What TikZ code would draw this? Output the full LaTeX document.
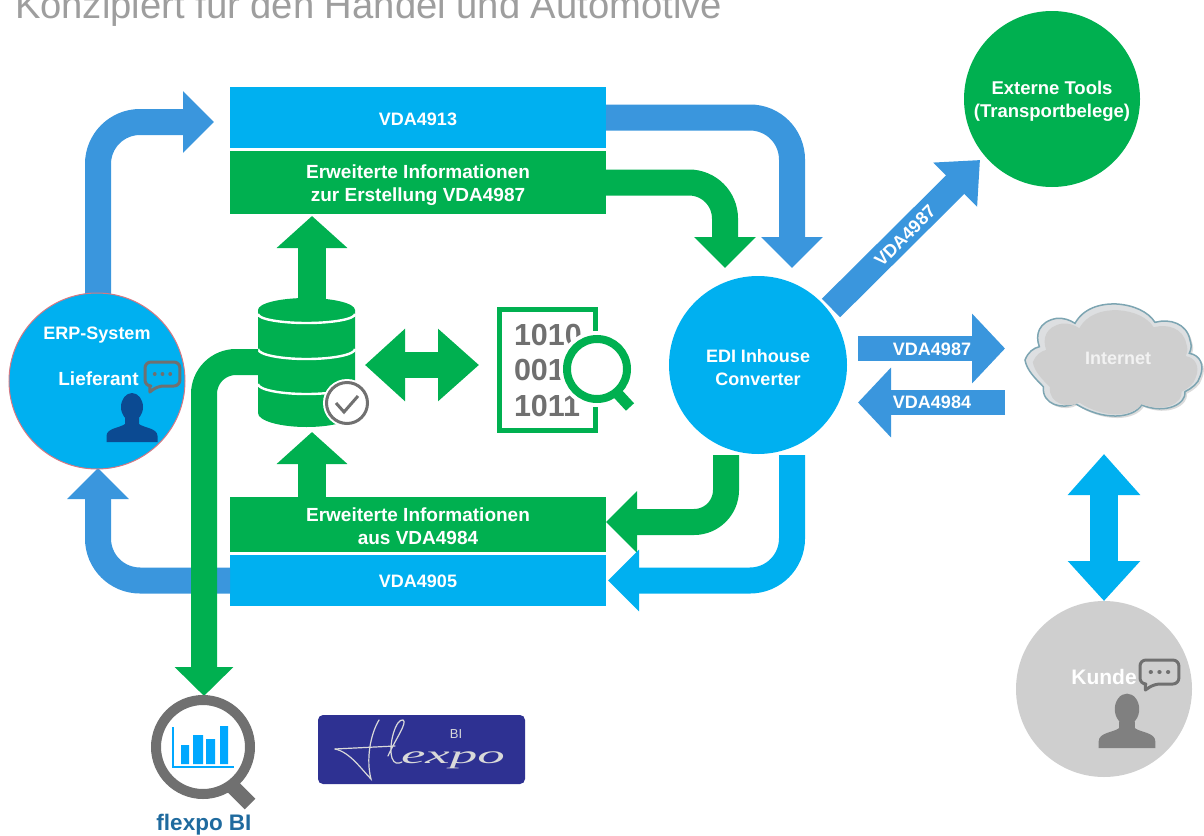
\documentclass[tikz,border=0pt]{standalone}
\usepackage{fontspec}
\setmainfont{Liberation Sans}
\newfontfamily\logofont{Liberation Serif}
\usetikzlibrary{arrows.meta}
\definecolor{cyanbox}{HTML}{00B0F0}
\definecolor{greenbox}{HTML}{00B050}
\definecolor{arrowblue}{HTML}{3A96DD}
\definecolor{graycircle}{HTML}{CFCFCF}
\definecolor{darkperson}{HTML}{0B4A92}
\definecolor{iconGray}{HTML}{707070}
\definecolor{cloudlight}{HTML}{DDDFE1}
\definecolor{cloudedge}{HTML}{7DA5B2}
\definecolor{chartblue}{HTML}{00A8FF}
\definecolor{bitext}{HTML}{1F6A9E}
\definecolor{logoblue}{HTML}{2E3192}
\definecolor{erpedge}{HTML}{D67882}
\newcommand{\dn}[1]{\rule{0pt}{#1pt}}
\newcommand{\personicon}[4]{%
  \begin{scope}[shift={(#1,#2)},scale=#3]
    \fill[#4] (-25.5,0) -- (-25.5,-6) .. controls (-25.5,-14) and (-12,-14) .. (-7,-18) -- (-7,-24) -- (7,-24) -- (7,-18) .. controls (12,-14) and (25.5,-14) .. (25.5,-6) -- (25.5,0) -- cycle;
    \fill[#4] (0,-35) ellipse [x radius=11, y radius=14];
  \end{scope}}
\newcommand{\bubbleicon}[3]{%
  \begin{scope}[shift={(#1,#2)},xscale=#3]
    \draw[iconGray,line width=3pt,line join=round] [rounded corners=6pt] (0,0) -- (36,0) -- (36,24) -- (13,24) [sharp corners] -- (5,30) -- (5,24) [rounded corners=6pt] -- (0,24) -- cycle;
    \foreach \dx in {10,18,26} \fill[iconGray] (\dx,12) circle [radius=2];
  \end{scope}}
\newcommand{\cloudpath}{(75,210) .. controls (85,185) and (100,175) .. (118,170)
  .. controls (105,135) and (115,95) .. (170,85) .. controls (190,83) and (210,90) .. (225,100)
  .. controls (250,55) and (300,40) .. (350,42) .. controls (400,45) and (445,65) .. (465,97)
  .. controls (510,85) and (560,100) .. (570,150) .. controls (575,165) and (575,175) .. (568,190)
  .. controls (600,195) and (615,225) .. (600,260) .. controls (595,280) and (575,295) .. (555,305)
  .. controls (560,340) and (500,375) .. (425,345) .. controls (400,385) and (310,395) .. (225,340)
  .. controls (190,360) and (125,345) .. (130,290) .. controls (105,265) and (80,240) .. (75,210) -- cycle}
\tikzset{
  box/.style={draw=none,fill=#1,minimum width=376pt,inner sep=0pt,outer sep=0pt,text=white,align=center,font=\bfseries\fontsize{18}{23}\selectfont},
  bigbox/.style={box=#1,font=\bfseries\fontsize{19}{23}\selectfont},
  disc/.style={circle,fill=#1,minimum size=176pt,inner sep=0pt,outer sep=0pt,text=white,align=center,font=\bfseries\fontsize{18}{23}\selectfont},
  lbl/.style={text=white,inner sep=0pt,align=center,font=\bfseries\fontsize{18}{23}\selectfont},
  holder/.style={inner sep=0pt,outer sep=0pt},
  fat/.style={draw=#1,line width=26pt,rounded corners=42pt,-{Triangle[width=60pt,length=31pt,fill=#1]}},
  upfat/.style={draw=greenbox,line width=28pt,-{Triangle[width=69pt,length=32pt,fill=greenbox]}},
  hfat/.style={draw=arrowblue,line width=25pt,-{Triangle[width=68pt,length=33pt,fill=arrowblue]}},
  digits/.style={holder,anchor=base west,text=iconGray,font=\bfseries\fontsize{30.5}{30}\selectfont},
}
\begin{document}
\begin{tikzpicture}[x=1pt,y=-1pt]
\useasboundingbox (0,0) rectangle (1204,835);
\clip (0,0) rectangle (1204,835);
% title
\node[holder,anchor=base west,text=black!38,font=\fontsize{38.2}{44}\selectfont] (title) at (15,18) {Konzipiert für den Handel und Automotive};

% named anchors for the connectors
\coordinate (erpOut) at (98,296);
\coordinate (erpTip) at (214,122);
\coordinate (ediTipA) at (792,268);
\coordinate (ediTipB) at (725,268);
\coordinate (ediOutG) at (726,455);
\coordinate (ediOutC) at (792,455);
\coordinate (infoBTip) at (606,522);
\coordinate (vdaBTip) at (608,580.5);
\coordinate (erpIn) at (98,468);
\coordinate (biTip) at (204,696);
\coordinate (dbTop) at (312,300);
\coordinate (infoTTip) at (312,216);
\coordinate (infoBUp) at (312,497);
\coordinate (dbBottom) at (312,432);
\coordinate (dbR) at (365,365);
\coordinate (docL) at (479,365);
\coordinate (ediDiag) at (831,308);
\coordinate (extTip) at (980,160);
\coordinate (ediR1) at (858,348.5);
\coordinate (netL1) at (1005,348.5);
\coordinate (netL2) at (1005,402.5);
\coordinate (ediR2) at (858,402.5);
\coordinate (netB) at (1104,454);
\coordinate (kundeT) at (1104,601);

\draw[fat=arrowblue] (erpOut) |- (erpTip);

% boxes
\node[box=cyanbox,minimum height=61pt] (vdaT) at (418,117.5) {\dn{16}VDA4913};
\node[bigbox=greenbox,minimum height=63pt] (infoT) at (418,182.5) {\dn{19}Erweiterte Informationen\\zur Erstellung VDA4987};
\node[bigbox=greenbox,minimum height=55pt] (infoB) at (418,524.5) {\dn{17}Erweiterte Informationen\\aus VDA4984};
\node[box=cyanbox,minimum height=51pt] (vdaB) at (418,580.5) {\dn{15}VDA4905};

\draw[fat=arrowblue] (vdaT.east) -| (ediTipA);
\draw[fat=greenbox,rounded corners=36pt] (infoT.east) -| (ediTipB);
\draw[fat=greenbox,rounded corners=32pt] (ediOutG) |- (infoBTip);
\draw[fat=cyanbox] (ediOutC) |- (vdaBTip);
\draw[fat=arrowblue] (vdaB.west) -| (erpIn);

% circles
\node[disc=cyanbox,draw=erpedge,line width=1pt] (erp) at (97,381) {};
\node[lbl] (erpText) at (97,335) {ERP-System};
\node[lbl,font=\bfseries\fontsize{19}{23}\selectfont] (liefText) at (98.5,379) {Lieferant};
\bubbleicon{145}{362}{0.97}
\personicon{132}{442}{1}{darkperson}

\node[disc=cyanbox,minimum size=178pt] (edi) at (758,365) {\dn{18}EDI Inhouse\\Converter};
\node[disc=greenbox,font=\bfseries\fontsize{18.5}{23}\selectfont] (ext) at (1052,99) {\dn{18}Externe Tools\\(Transportbelege)};
\node[disc=graycircle] (kunde) at (1104,689) {};
\node[lbl,font=\bfseries\fontsize{21}{23}\selectfont] (kundeText) at (1104,677) {Kunde};
\bubbleicon{1140}{660}{1.08}
\personicon{1127}{748}{1.11}{black!50}

% database
\node[holder,minimum width=97pt,minimum height=129pt] (db) at (306.5,362) {};
\draw[upfat] (dbTop) -- (infoTTip);
\draw[upfat] (infoBUp) -- (dbBottom);
\fill[greenbox] (258,310) -- (258,413) arc [start angle=180,end angle=0,x radius=48.5,y radius=14] -- (355,310) -- cycle;
\fill[greenbox] (306.5,310) ellipse [x radius=48.5,y radius=12];
\draw[white,line width=2.4pt] (258,314) arc [start angle=180,end angle=0,x radius=48.5,y radius=9];
\draw[white,line width=2.4pt] (258,349) arc [start angle=180,end angle=0,x radius=48.5,y radius=10];
\draw[white,line width=2.4pt] (258,384) arc [start angle=180,end angle=0,x radius=48.5,y radius=10];
\fill[white] (347,403) circle [radius=24];
\draw[iconGray,line width=3pt] (347,403) circle [radius=20.5];
\draw[iconGray,line width=3pt] (336,403) -- (344,412) -- (358,396);

% green DB to flexpo BI
\draw[fat=greenbox,rounded corners=32pt,-{Triangle[width=57pt,length=29pt,fill=greenbox]}] (db.west) -| (biTip);

% double arrow and document
\node[holder,minimum width=96pt,minimum height=121pt,draw=greenbox,line width=5pt] (doc) at (547.5,370) {};
\draw[draw=greenbox,line width=26pt,{Triangle[width=70pt,length=40pt,fill=greenbox]}-{Triangle[width=70pt,length=41pt,fill=greenbox]}] (dbR) -- (docL);
\node[digits] (d1) at (514,345) {1010};
\node[digits] (d2) at (514,380) {001};
\node[digits] (d3) at (514,416) {1011};
\fill[white] (597,369) circle [radius=38];
\draw[greenbox,line width=8pt] (597,369) circle [radius=30];
\draw[greenbox,line width=11pt] (618,394) -- (630,407);

% arrows on the right
\draw[draw=arrowblue,line width=26pt,-{Triangle[width=60pt,length=35pt,fill=arrowblue]}] (ediDiag) -- (extTip);
\node[lbl,rotate=45] (lDiag) at (905,236) {VDA4987};
\draw[hfat] (ediR1) -- (netL1);
\draw[hfat] (netL2) -- (ediR2);
\node[lbl] (l1) at (932,349) {VDA4987};
\node[lbl] (l2) at (932,402) {VDA4984};
\draw[draw=cyanbox,line width=28pt,{Triangle[width=70pt,length=41pt,fill=cyanbox]}-{Triangle[width=70pt,length=40pt,fill=cyanbox]}] (netB) -- (kundeT);

% cloud
\begin{scope}[shift={(1000,290)},scale=0.3333]
  \fill[black!14] [shift={(6,6)}] \cloudpath;
  \path[fill=cloudlight,draw=cloudedge,line width=1.5pt] \cloudpath;
  \fill[graycircle] [shift={(345,215)},scale=0.93,shift={(-340,-208)}] \cloudpath;
\end{scope}
\node[lbl,text=white!95!black] (net) at (1118,358) {Internet};

% flexpo BI icon
\draw[iconGray,line width=15pt] (231,785) -- (250,804);
\draw[iconGray,line width=10pt,fill=white] (203,747) circle [radius=47];
\draw[chartblue,line width=2.5pt] (173,727) -- (173,767) -- (234,767);
\fill[chartblue] (181,745) rectangle (189,764) (193,735) rectangle (203,764) (206,739) rectangle (215,764) (220,726) rectangle (228,764);
\node[holder,text=bitext,font=\bfseries\fontsize{22.5}{24}\selectfont] (bi) at (204,825) {flexpo BI};

% logo
\node[holder,fill=logoblue,rounded corners=5pt,minimum width=207pt,minimum height=69pt] (logo) at (421.5,749.5) {};
\draw[white!85!black,line width=1.2pt,line cap=round] (335,749) .. controls (350,752) and (362,770) .. (371,779) .. controls (366,760) and (370,735) .. (379,720);
\draw[white!85!black,line width=1.2pt,line cap=round] (335,749) -- (395,746);
\draw[white!85!black,line width=1.2pt,line cap=round] (388,756) .. controls (395,740) and (408,722) .. (403,720) .. controls (396,718) and (388,745) .. (392,758) .. controls (394,764) and (398,764) .. (402,762);
\node[holder,anchor=base west,text=white!85!black,font=\logofont\itshape\fontsize{25}{25}\selectfont,xscale=2.2] (flexpo) at (401,763) {expo};
\node[holder,text=white!85!black,font=\fontsize{13}{15}\selectfont] (logoBI) at (456,734) {BI};
\end{tikzpicture}
\end{document}
